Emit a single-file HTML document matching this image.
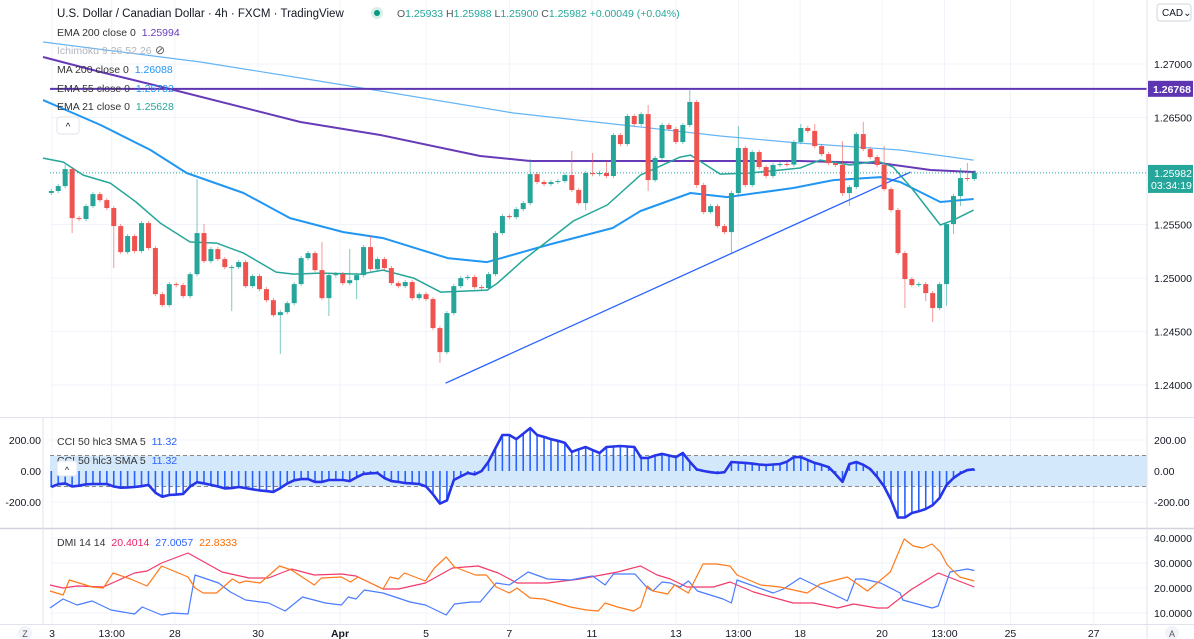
<!DOCTYPE html>
<html><head><meta charset="utf-8">
<style>
body{margin:0;background:#fff;}
svg{display:block;font-family:"Liberation Sans",sans-serif;}
</style></head>
<body>
<svg id="chart" width="1194" height="639" viewBox="0 0 1194 639">
<rect x="0" y="0" width="1194" height="639" fill="#ffffff"/>
<g id="grid"></g>
<g id="main"></g>
<g id="cci"></g>
<g id="dmi"></g>
<g id="axes"></g>
<g id="legend">
<text x="57" y="17" font-size="11.5" fill="#131722">U.S. Dollar / Canadian Dollar · 4h · FXCM · TradingView</text>
<circle cx="377" cy="13" r="6" fill="#d6efe9"/>
<circle cx="377" cy="13" r="3" fill="#089981"/>
<text x="397" y="17" font-size="10.5" fill="#26a69a"><tspan fill="#555">O</tspan>1.25933 <tspan fill="#555">H</tspan>1.25988 <tspan fill="#555">L</tspan>1.25900 <tspan fill="#555">C</tspan>1.25982 +0.00049 (+0.04%)</text>
<text x="57" y="36" font-size="10.5" fill="#333">EMA 200 close 0 <tspan fill="#673ab7" dx="3">1.25994</tspan></text>
<text x="57" y="54" font-size="10.5" fill="#b2b5be">Ichimoku 9 26 52 26</text>
<text x="155" y="54" font-size="12" fill="#555">⊘</text>
<text x="57" y="73" font-size="10.5" fill="#333">MA 200 close 0 <tspan fill="#2196f3" dx="3">1.26088</tspan></text>
<text x="57" y="92" font-size="10.5" fill="#333">EMA 55 close 0 <tspan fill="#2196f3" dx="3">1.25732</tspan></text>
<text x="57" y="110" font-size="10.5" fill="#333">EMA 21 close 0 <tspan fill="#26a69a" dx="3">1.25628</tspan></text>
<rect x="57" y="117" width="22" height="17" rx="3" fill="#fff" stroke="#e0e3eb"/>
<text x="68" y="130" font-size="10" text-anchor="middle" fill="#131722">^</text>
<text x="57" y="445" font-size="10.5" fill="#333">CCI 50 hlc3 SMA 5 <tspan fill="#2962ff" dx="3">11.32</tspan></text>
<text x="57" y="464" font-size="10.5" fill="#333">CCI 50 hlc3 SMA 5 <tspan fill="#2962ff" dx="3">11.32</tspan></text>
<rect x="57" y="461" width="20" height="15" rx="3" fill="#fff" stroke="#e0e3eb"/>
<text x="67" y="473" font-size="9" text-anchor="middle" fill="#131722">^</text>
<text x="57" y="546" font-size="10.5" fill="#333">DMI 14 14 <tspan fill="#e91e63" dx="3">20.4014</tspan> <tspan fill="#2962ff" dx="3">27.0057</tspan> <tspan fill="#ff6d00" dx="3">22.8333</tspan></text>
<rect x="1157" y="4" width="34" height="17" rx="3" fill="#fff" stroke="#d1d4dc"/>
<text x="1162" y="16" font-size="10" fill="#131722">CAD⌄</text>
<circle cx="25" cy="633" r="7" fill="#f0f3fa"/>
<text x="25" y="637" font-size="9" text-anchor="middle" fill="#555">Z</text>
<circle cx="1172" cy="633" r="7" fill="#f0f3fa"/>
<text x="1172" y="637" font-size="9" text-anchor="middle" fill="#555">A</text>
</g>
</svg>
<script>
// ---------- data ----------
const firstOpen = 1.25795;
const closes = [1.25813,1.25859,1.26018,1.25560,1.25551,1.25672,1.25784,1.25728,1.25654,1.25485,
1.25242,1.25392,1.25252,1.25513,1.25280,1.24849,1.24747,1.24943,1.24934,1.24831,
1.25036,1.25420,1.25158,1.25270,1.25177,1.25102,1.25102,1.25149,1.24924,1.25018,
1.24896,1.24793,1.24653,1.24681,1.24765,1.24943,1.25186,1.25233,1.25074,1.24812,
1.25027,1.25036,1.24952,1.24980,1.25027,1.25289,1.25083,1.25177,1.25093,1.24952,
1.24924,1.24962,1.24812,1.24849,1.24803,1.24532,1.24307,1.24672,1.24924,1.24999,
1.25010,1.24915,1.24906,1.25036,1.25420,1.25579,1.25569,1.25644,1.25700,1.25971,
1.25897,1.25878,1.25897,1.25906,1.25962,1.25822,1.25700,1.25981,1.25971,1.25981,
1.25953,1.26336,1.26252,1.26514,1.26439,1.26532,1.25915,1.26121,1.26430,1.26392,
1.26271,1.26430,1.26645,1.25869,1.25616,1.25672,1.25485,1.25429,1.25794,1.26215,
1.25869,1.26177,1.26037,1.25953,1.26056,1.26065,1.26060,1.26271,1.26402,1.26374,
1.26233,1.26158,1.26074,1.26056,1.25794,1.25850,1.26345,1.26205,1.26130,1.26056,
1.25831,1.25635,1.25233,1.24990,1.24934,1.24943,1.24859,1.24719,1.24943,1.25504,
1.25766,1.25934,1.25925,1.25982];
const highIdx = [2,21,22,39,43,46,69,75,78,80,86,92,99,108,110,114,117,120,131,132,133];
const highVal = [1.26056,1.25925,1.25504,1.25336,1.25270,1.25392,1.26112,1.26187,1.26168,1.26093,1.26617,1.26766,1.26420,1.26439,1.26439,1.26280,1.26458,1.26233,1.26028,1.26075,1.26009];
const lowIdx = [3,9,26,33,40,44,56,77,86,93,98,114,115,123,126,127,129,130,131];
const lowVal = [1.25420,1.25093,1.24691,1.24289,1.24644,1.24803,1.24205,1.25635,1.25813,1.25841,1.25224,1.25766,1.25672,1.24719,1.24784,1.24588,1.24738,1.25411,1.25672];

const ema200Idx = [-1.2,7.1,17.1,35.9,47.4,61.8,69.0,90.8,107.9,119.5,126.7,133.2];
const ema200Val = [1.27065,1.26925,1.26766,1.26458,1.26336,1.26140,1.26093,1.26093,1.26093,1.26074,1.26009,1.25990];
const ma200Idx = [-1.2,21.5,35.9,47.4,66.6,81.0,96.4,107.9,122.3,132.9];
const ma200Val = [1.27206,1.27019,1.26869,1.26748,1.26542,1.26439,1.26327,1.26261,1.26196,1.26102];
const ema55Idx = [-1.2,7.1,14.3,19.5,27.7,34.4,42.1,47.8,57.1,62.8,71.5,80.9,84.9,92.1,97.4,106.9,112.7,119.5,122.3,128.1,132.9];
const ema55Val = [1.26663,1.26430,1.26196,1.25981,1.25794,1.25560,1.25429,1.25373,1.25186,1.25149,1.25308,1.25467,1.25626,1.25794,1.25756,1.25841,1.25915,1.25943,1.25897,1.25710,1.25738];
const ema21Idx = [-1.2,1.7,4.6,8.5,12.2,15.7,20.0,23.8,27.7,32.4,34.9,38.8,44.5,47.8,52.2,56.1,62.8,64.3,68.0,75.2,80.1,84.9,90.6,92.1,96.4,100.7,107.9,110.8,115.1,119.0,121.3,124.2,128.1,130.0,132.9];
const ema21Val = [1.26121,1.26084,1.25962,1.25887,1.25710,1.25513,1.25336,1.25326,1.25233,1.25055,1.25036,1.25046,1.25036,1.25074,1.24999,1.24868,1.24887,1.24952,1.25167,1.25532,1.25682,1.25962,1.26130,1.26149,1.25971,1.25981,1.26028,1.26102,1.26056,1.26093,1.26037,1.25822,1.25495,1.25541,1.25635];
const trendIdx = [56.8,123.8];
const trendVal = [1.24017,1.25990];
const hLinePrice = 1.26768;
const lastPrice = 1.25982;

const cciVals = [-103,-85,-80,-100,-95,-86,-84,-84,-84,-100,-108,-106,-103,-98,-90,-140,-166,-155,-152,-148,
-100,-72,-80,-90,-100,-112,-110,-103,-110,-118,-125,-130,-135,-110,-80,-60,-52,-52,-70,-70,
-58,-58,-58,-65,-40,-19,-15,-13,-45,-65,-70,-78,-80,-84,-100,-150,-210,-190,-58,-35,
-13,-22,0,60,148,232,232,206,240,277,232,220,205,195,181,123,140,155,135,116,
155,158,161,158,155,84,84,100,110,100,90,116,60,10,0,-8,-13,-8,58,55,
52,48,42,39,42,45,60,90,90,70,52,40,25,-20,-70,45,58,40,13,-39,
-100,-187,-300,-300,-271,-260,-245,-220,-174,-90,-45,-15,6,11];

const plusIdx = [-0.2,1.7,3.7,7.5,12.0,13.8,15.9,19.7,24.6,28.5,31.3,34.6,37.9,41.8,43.9,47.8,50.0,53.9,57.8,61.5,64.4,67.1,71.5,76.2,81.6,84.9,87.3,89.2,91.6,95.4,97.8,101.2,106.9,109.8,113.3,115.6,119.0,120.5,123.8,127.8,133.0];
const plusVal = [21.2,20,20.8,20.4,26,26.8,30,34,26.4,24,24,27.6,25.2,25.6,24.8,19.6,19.6,22,28,28.8,26,22,22,23.6,26.4,28.8,25.2,23.6,20.4,20.4,22.4,18.4,14,14,12,13.6,12,12,19.2,26,20.4];
const minusIdx = [-0.2,1.7,3.7,5.9,8.6,12.0,13.1,15.9,17.4,19.7,20.7,24.1,25.8,28.0,31.3,33.7,36.2,39.5,41.8,42.8,43.9,45.1,47.8,51.7,53.9,56.9,58.1,60.5,61.8,64.1,66.0,68.7,71.5,74.8,77.1,78.0,79.8,81.0,84.1,85.9,86.7,88.0,89.2,90.6,91.8,93.1,96.8,98.0,98.8,104.0,105.5,107.9,111.8,114.7,115.9,117.0,119.5,122.3,122.7,126.9,127.8,129.5,132.0,133.0];
const minusVal = [12,15.6,13.2,14.8,11.2,9.6,12.4,9.2,10,9.6,25.2,22,18.4,15.2,14,10.8,16.4,14,13.2,16.4,15.6,19.2,18,14.4,13.2,9.2,13.6,14.4,14.4,22,21.2,26.4,23.6,23.2,24.4,24.8,21.2,25.6,25.6,20,18.8,22.4,22,20.4,22.8,18.8,15.6,14,23.2,18,19.6,24,18.8,14.8,23.6,23.6,22,18,15.2,12,12.8,26.4,27.6,27];
const adxIdx = [-0.2,1.7,2.6,5.9,7.5,8.9,11.4,13.8,15.9,19.7,20.7,21.9,23.8,26.1,27.1,28.0,30.1,32.9,34.6,37.9,38.9,41.8,43.1,44.2,47.8,48.8,50.0,50.9,53.9,55.2,56.9,58.1,61.1,62.7,64.1,66.0,67.1,69.0,70.9,74.8,77.1,78.8,79.8,81.6,83.9,84.9,85.9,86.7,88.8,89.8,91.8,93.9,95.8,97.8,98.8,102.2,105.0,108.9,110.8,114.7,117.6,120.9,122.9,124.2,125.6,126.9,128.1,129.1,130.9,133.0];
const adxVal = [18.8,17.2,23.2,20.4,20,26,23.6,20.8,28.8,24.4,20,18,18,23.6,22,22.8,22,28.8,27.2,21.2,24,24.4,22.4,24.4,19.6,24.4,23.6,26,22.8,28,32.4,28.4,25.2,25.2,20.4,18,20,16,15.6,12.4,11.2,10.8,14,12.4,10.8,12.4,20.8,18.8,17.6,21.2,18,29.6,29.6,28.8,25.2,21.2,20.4,18,21.6,24.4,18.8,26.4,39.6,36.8,36,37.6,34.4,29.2,24.4,22.8];

const priceTicks = [1.27,1.265,1.26,1.255,1.25,1.245,1.24];
const priceTickLabels = ["1.27000","1.26500","","1.25500","1.25000","1.24500","1.24000"];
const cciTicks = [200,0,-200];
const cciTickLabels = ["200.00","0.00","-200.00"];
const dmiTicks = [40,30,20,10];
const dmiTickLabels = ["40.0000","30.0000","20.0000","10.0000"];
const timeIdx = [0.1,8.7,17.8,29.8,41.6,54.0,66.0,77.9,90.0,99.0,107.9,119.7,128.7,138.2,150.2];
const timeLabels = ["3","13:00","28","30","Apr","5","7","11","13","13:00","18","20","13:00","25","27"];

// ---------- scales ----------
const X0 = 51.3, BAR = 6.94, PLOT_L = 50, PLOT_R = 1147;
const xS = i => X0 + i * BAR;
const yP = p => 64 + (1.27 - p) / 0.005 * 53.5;
const yC = v => 471 - v * 0.155;
const yD = v => 538 + (40 - v) * 2.5;
const NS = "http://www.w3.org/2000/svg";
function mk(tag, attrs, parent){const e=document.createElementNS(NS,tag);for(const k in attrs)e.setAttribute(k,attrs[k]);parent.appendChild(e);return e;}
const grid=document.getElementById('grid'),main=document.getElementById('main'),cci=document.getElementById('cci'),dmi=document.getElementById('dmi'),axes=document.getElementById('axes');

// grid
timeIdx.forEach(i=>{const l=mk('line',{x1:xS(i),x2:xS(i),y1:0,y2:624,stroke:'#f0f3fa'},grid);

});
priceTicks.forEach(p=>{const l=mk('line',{x1:PLOT_L,x2:PLOT_R,y1:yP(p),y2:yP(p),stroke:'#f0f3fa'},grid);

});
cciTicks.forEach(v=>{const l=mk('line',{x1:PLOT_L,x2:PLOT_R,y1:yC(v),y2:yC(v),stroke:'#f0f3fa'},grid);

});
dmiTicks.forEach(v=>{const l=mk('line',{x1:PLOT_L,x2:PLOT_R,y1:yD(v),y2:yD(v),stroke:'#f0f3fa'},grid);

});

function poly(idx, vals, ys, color, w, parent, name){
  const pts = idx.map((i,k)=>xS(i).toFixed(1)+','+ys(vals[k]).toFixed(1)).join(' ');
  const e = mk('polyline',{points:pts,fill:'none',stroke:color,'stroke-width':w,'stroke-linejoin':'round'},parent);
  
  
  return e;
}

// main pane lines
poly(ma200Idx, ma200Val, yP, '#64b5f6', 1.2, main, 'ma200-line');
poly(ema200Idx, ema200Val, yP, '#673ab7', 2, main, 'ema200-line');
poly(ema55Idx, ema55Val, yP, '#2196f3', 2, main, 'ema55-line');
poly(ema21Idx, ema21Val, yP, '#26a69a', 1.5, main, 'ema21-line');
poly(trendIdx, trendVal, yP, '#2962ff', 1.3, main, 'trend-line');
{const l=mk('line',{x1:PLOT_L,x2:PLOT_R,y1:yP(hLinePrice),y2:yP(hLinePrice),stroke:'#5e35b1','stroke-width':2},main);

}
{const l=mk('line',{x1:PLOT_L,x2:PLOT_R,y1:yP(lastPrice),y2:yP(lastPrice),stroke:'#26a69a','stroke-width':1,'stroke-dasharray':'1,2'},main);

}

// candles
const hiMap={},loMap={};
highIdx.forEach((i,k)=>hiMap[i]=highVal[k]);
lowIdx.forEach((i,k)=>loMap[i]=lowVal[k]);
closes.forEach((c,i)=>{
  const o = i===0 ? firstOpen : closes[i-1];
  const up = c >= o;
  const col = up ? '#26a69a' : '#ef5350';
  const top = Math.max(o,c), bot = Math.min(o,c);
  const h = hiMap[i] !== undefined ? hiMap[i] : top + 0.0002;
  const l = loMap[i] !== undefined ? loMap[i] : bot - 0.0002;
  const x = xS(i);
  const w = mk('line',{x1:x,x2:x,y1:yP(h),y2:yP(l),stroke:col,'stroke-opacity':0.6,'stroke-width':1},main);
  
  
  const y1 = yP(top), y2 = yP(bot);
  const b = mk('rect',{x:x-2.5,y:y1,width:5,height:Math.max(1,y2-y1),fill:col},main);
  
  
});

// CCI pane
{const r=mk('rect',{x:PLOT_L,y:yC(100),width:PLOT_R-PLOT_L,height:yC(-100)-yC(100),fill:'#d4e8fb'},cci);

}
[100,-100].forEach(v=>{const l=mk('line',{x1:PLOT_L,x2:PLOT_R,y1:yC(v),y2:yC(v),stroke:'#888','stroke-dasharray':'4,3'},cci);

});
cciVals.forEach((v,i)=>{const l=mk('line',{x1:xS(i),x2:xS(i),y1:yC(0),y2:yC(v),stroke:'#2962ff','stroke-width':1.6},cci);

});
poly(cciVals.map((v,i)=>i), cciVals, yC, '#2635e8', 2.6, cci, 'cci-line');

// DMI pane
poly(plusIdx, plusVal, yD, '#f23a6b', 1.2, dmi, 'dmi-plus-line');
poly(minusIdx, minusVal, yD, '#4a7cff', 1.2, dmi, 'dmi-minus-line');
poly(adxIdx, adxVal, yD, '#ff7a1a', 1.2, dmi, 'adx-line');

// axes & separators
function ln(a,name){const l=mk('line',a,axes);}
ln({x1:0,x2:1194,y1:417.5,y2:417.5,stroke:'#e0e3eb','stroke-width':1},'pane-separator');
ln({x1:0,x2:1194,y1:528.5,y2:528.5,stroke:'#d1d4dc','stroke-width':1.5},'pane-separator');
ln({x1:0,x2:1194,y1:624.5,y2:624.5,stroke:'#e0e3eb'},'time-axis-border');
ln({x1:PLOT_R,x2:PLOT_R,y1:0,y2:639,stroke:'#e0e3eb'},'price-axis-border');
ln({x1:PLOT_L-7,x2:PLOT_L-7,y1:418,y2:624,stroke:'#e0e3eb'},'left-axis-border');
function tx(x,y,s,a,name){const t=mk('text',a,axes);t.setAttribute('x',x);t.setAttribute('y',y);t.textContent=s;return t;}
priceTicks.forEach((p,k)=>{ if(priceTickLabels[k]) tx(1154,yP(p)+4,priceTickLabels[k],{'font-size':10.5,fill:'#131722'},'price-tick-label');});
cciTicks.forEach((v,k)=>{ tx(1154,yC(v)+4,cciTickLabels[k],{'font-size':10.5,fill:'#131722'},'cci-tick-label');
 tx(41,yC(v)+4,cciTickLabels[k],{'font-size':10.5,fill:'#131722','text-anchor':'end'},'cci-left-tick-label');});
dmiTicks.forEach((v,k)=>{ tx(1154,yD(v)+4,dmiTickLabels[k],{'font-size':10.5,fill:'#131722'},'dmi-tick-label');});
timeIdx.forEach((i,k)=>{ const t=tx(xS(i),637,timeLabels[k],{'font-size':10.5,fill:'#131722','text-anchor':'middle'},'time-tick-label'); if(timeLabels[k]==='Apr') t.setAttribute('font-weight','bold');});
// price labels
{const r=mk('rect',{x:1148,y:yP(hLinePrice)-8,width:45,height:16,fill:'#5e35b1'},axes);

}
tx(1153,yP(hLinePrice)+4,'1.26768',{'font-size':10.5,fill:'#fff','font-weight':'bold'},'resistance-price-text');
{const r=mk('rect',{x:1148,y:yP(lastPrice)-8,width:45,height:28,fill:'#26a69a'},axes);

}
tx(1154,yP(lastPrice)+4,'1.25982',{'font-size':10.5,fill:'#fff'},'last-price-text');
tx(1151,yP(lastPrice)+16,'03:34:19',{'font-size':10.5,fill:'#fff'},'countdown-text');
</script>
</body></html>
